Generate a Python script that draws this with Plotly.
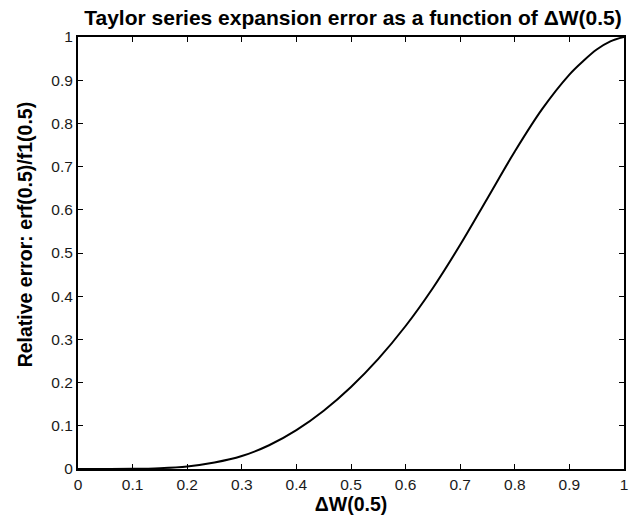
import plotly.graph_objects as go

dw = [0.0, 0.05, 0.1, 0.15, 0.2, 0.25, 0.3, 0.35, 0.4, 0.45, 0.5,
      0.55, 0.6, 0.65, 0.7, 0.75, 0.8, 0.85, 0.9, 0.925, 0.95, 0.975, 1.0]
rel_err = [0.0, 0.0, 0.0004, 0.002, 0.006, 0.015, 0.030, 0.055, 0.090, 0.135, 0.190,
           0.255, 0.331, 0.419, 0.519, 0.627, 0.735, 0.833, 0.913, 0.944, 0.971, 0.990, 1.0]

fig = go.Figure()
fig.add_trace(go.Scatter(x=dw, y=rel_err, mode="lines",
                         line=dict(color="black", width=2, shape="spline", smoothing=1.0),
                         showlegend=False, cliponaxis=False))

font = "Liberation Sans, Arial, Helvetica, sans-serif"
axis_common = dict(range=[0, 1], dtick=0.1, tick0=0, ticks="inside", ticklen=5,
                   tickwidth=1, tickcolor="black", showline=True, linecolor="black",
                   linewidth=2, mirror="ticks", showgrid=False, zeroline=False,
                   tickfont=dict(size=15.5, color="#1a1a1a", family=font))

fig.update_layout(
    width=640, height=524,
    margin=dict(l=78, r=12, t=37, b=55),
    plot_bgcolor="white", paper_bgcolor="white",
    title=dict(text="<b>Taylor series expansion error as a function of ΔW(0.5)</b>",
               x=(78 + 275) / 640, xanchor="center", y=1 - 18 / 524, yanchor="middle",
               font=dict(size=21, color="black", family=font)),
    xaxis=dict(**axis_common,
               title=dict(text="<b>ΔW(0.5)</b>", standoff=4,
                          font=dict(size=19.5, color="black", family=font))),
    yaxis=dict(**axis_common),
    annotations=[dict(text="<b>Relative error: erf(0.5)/f1(0.5)</b>", textangle=-90,
                      xref="paper", yref="paper", x=-0.0964, y=0.544,
                      xanchor="center", yanchor="middle", showarrow=False,
                      font=dict(size=19.5, color="black", family=font))],
)

fig.write_html("out.html")
